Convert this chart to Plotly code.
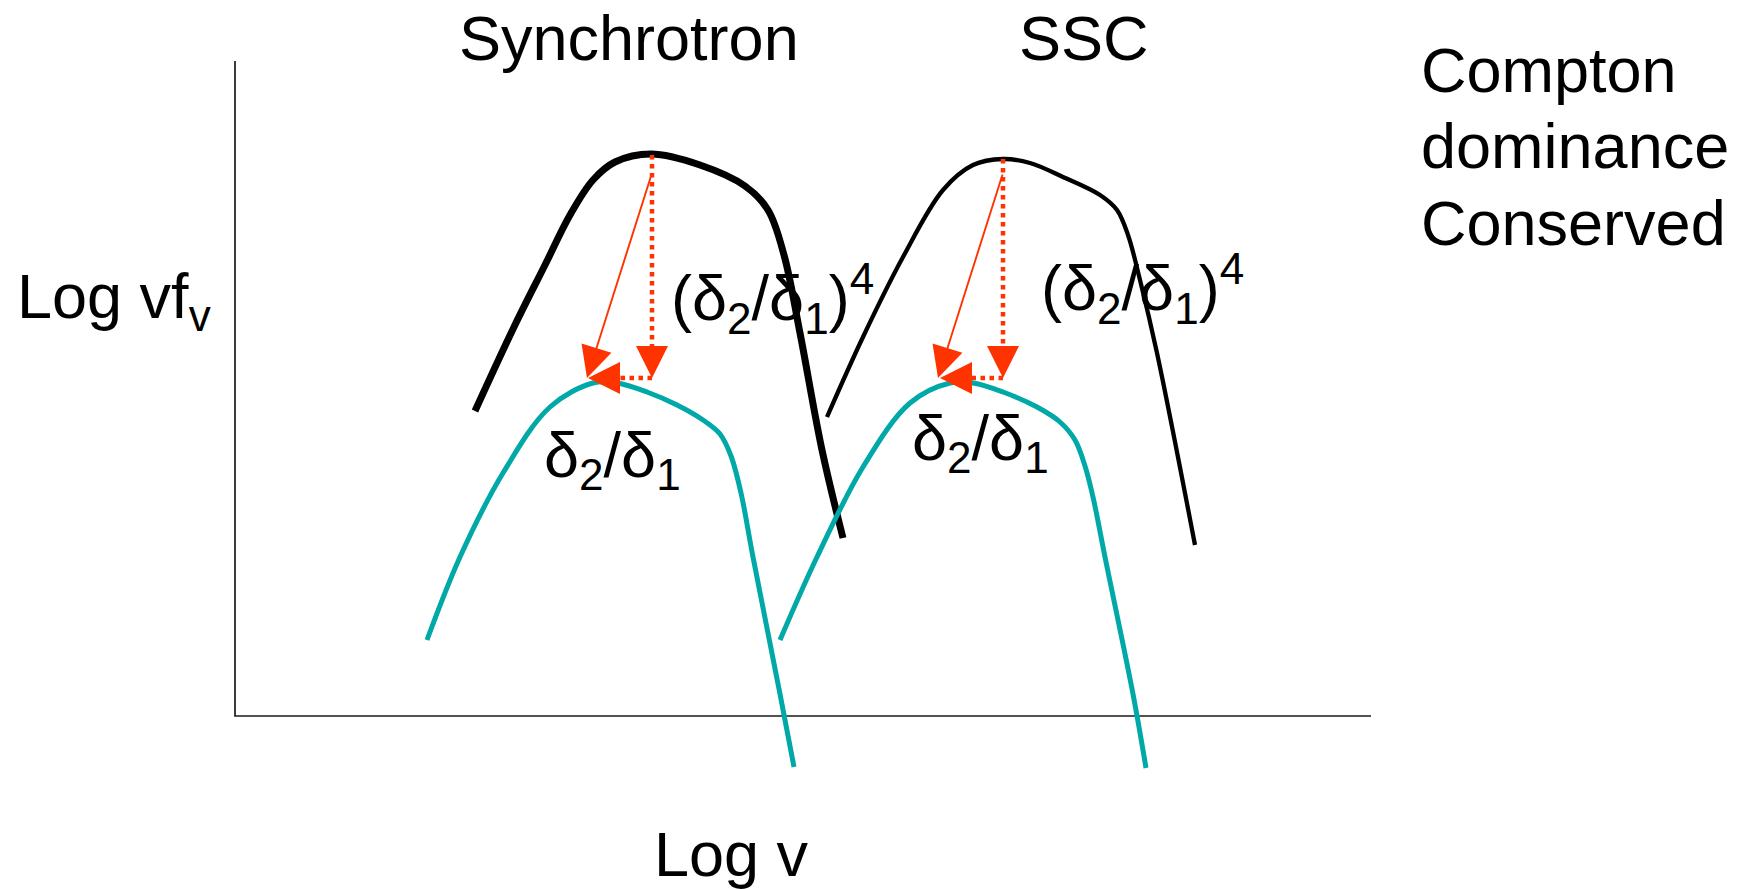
import plotly.graph_objects as go

# ---- data (units: abstract log ν / log νFν, origin at axes corner) ----
axis_x = [0, 0, 1136]
axis_y = [655, 0, 0]

# Synchrotron bump (Doppler factor δ1)
sync_x = [240, 279, 310, 335, 358, 380, 416, 465, 510, 533, 549, 565, 587, 608]
sync_y = [305, 389, 451, 501, 536, 554, 562, 551, 530, 506, 461, 383, 266, 178]

# SSC bump (Doppler factor δ1)
ssc_x = [592, 628, 668, 708, 738, 768, 795, 828, 865, 882, 893, 905, 922, 960]
ssc_y = [299, 379, 459, 526, 551, 557, 553, 539, 521, 506, 481, 436, 363, 171]

# Synchrotron bump after Doppler change (δ2)
sync2_x = [192, 225, 268, 315, 358, 382, 412, 442, 468, 485, 496, 506, 518, 545, 559]
sync2_y = [76, 159, 243, 309, 333, 333, 324, 311, 296, 282, 260, 223, 159, 22, -51]

# SSC bump after Doppler change (δ2)
ssc2_x = [545, 582, 628, 675, 715, 738, 768, 802, 825, 840, 850, 858, 870, 898, 911]
ssc2_y = [76, 159, 249, 313, 333, 333, 324, 309, 294, 276, 250, 219, 159, 22, -52]

# Peak shifts: original peak -> new peak
peak_x = [417, 768]
peak_y = [561, 557]
drop_y = [338, 338]        # flux after (δ2/δ1)^4 drop
shift_x = [353, 705]       # frequency after δ2/δ1 shift
solid_start_y = [543, 543]
solid_tip_x = [352, 703]

title_labels = ["Synchrotron", "SSC"]
side_labels = ["Compton", "dominance", "Conserved"]
flux_label = "(δ<sub>2</sub>/δ<sub>1</sub>)<sup>4</sup>"
freq_label = "δ<sub>2</sub>/δ<sub>1</sub>"

BLACK = "#000000"
TEAL = "#00A8A8"
RED = "#FF3300"
FONT = "Liberation Sans, Arial, sans-serif"
HEAD = 29

fig = go.Figure()

fig.add_trace(go.Scatter(x=axis_x, y=axis_y, mode="lines",
                         line=dict(color="#1a1a1a", width=1.7)))
fig.add_trace(go.Scatter(x=sync_x, y=sync_y, mode="lines",
                         line=dict(color=BLACK, width=7, shape="spline", smoothing=1.0)))
fig.add_trace(go.Scatter(x=ssc_x, y=ssc_y, mode="lines",
                         line=dict(color=BLACK, width=4.3, shape="spline", smoothing=1.0)))
fig.add_trace(go.Scatter(x=sync2_x, y=sync2_y, mode="lines",
                         line=dict(color=TEAL, width=5, shape="spline", smoothing=1.0)))
fig.add_trace(go.Scatter(x=ssc2_x, y=ssc2_y, mode="lines",
                         line=dict(color=TEAL, width=5, shape="spline", smoothing=1.0)))

annotations = []
for i in range(len(peak_x)):
    # dotted vertical drop
    fig.add_trace(go.Scatter(x=[peak_x[i], peak_x[i]], y=[peak_y[i], drop_y[i] + HEAD - 4],
                             mode="lines", line=dict(color=RED, width=4.5, dash="dot")))
    # dotted horizontal shift
    fig.add_trace(go.Scatter(x=[peak_x[i], shift_x[i] + HEAD - 4], y=[drop_y[i], drop_y[i]],
                             mode="lines", line=dict(color=RED, width=4.5, dash="dot")))
    # arrow heads for dotted lines
    annotations.append(dict(x=peak_x[i], y=drop_y[i], ax=peak_x[i], ay=drop_y[i] + HEAD,
                            xref="x", yref="y", axref="x", ayref="y", text="",
                            showarrow=True, arrowhead=2, arrowsize=3.2, arrowwidth=2,
                            arrowcolor=RED, standoff=0))
    annotations.append(dict(x=shift_x[i], y=drop_y[i], ax=shift_x[i] + HEAD, ay=drop_y[i],
                            xref="x", yref="y", axref="x", ayref="y", text="",
                            showarrow=True, arrowhead=2, arrowsize=3.2, arrowwidth=2,
                            arrowcolor=RED, standoff=0))
    # solid diagonal arrow
    annotations.append(dict(x=solid_tip_x[i], y=drop_y[i], ax=peak_x[i], ay=solid_start_y[i],
                            xref="x", yref="y", axref="x", ayref="y", text="",
                            showarrow=True, arrowhead=2, arrowsize=3.3, arrowwidth=1.9,
                            arrowcolor=RED, standoff=0))

def label(text, x, y, xanchor="center"):
    annotations.append(dict(x=x, y=y, xref="x", yref="y", text=text, showarrow=False,
                            xanchor=xanchor, yanchor="middle",
                            font=dict(family=FONT, size=63, color=BLACK)))

label(title_labels[0], 394, 678)
label(title_labels[1], 849, 678)
label(side_labels[0], 1184, 646, "left")
label(side_labels[1], 1184, 570, "left")
label(side_labels[2], 1184, 493, "left")
label("Log vf<sub>v</sub>", -220, 416, "left")
label("Log v", 496, -138)
label(flux_label, 434, 418, "left")
label(flux_label, 804, 428, "left")
label(freq_label, 307, 257, "left")
label(freq_label, 675, 274, "left")

fig.update_layout(
    width=1745, height=889,
    margin=dict(l=0, r=0, t=0, b=0),
    paper_bgcolor="white", plot_bgcolor="white",
    showlegend=False,
    xaxis=dict(range=[-235, 1510], visible=False, fixedrange=True),
    yaxis=dict(range=[-173, 716], visible=False, fixedrange=True),
    annotations=annotations,
)

fig.write_html("out.html")
